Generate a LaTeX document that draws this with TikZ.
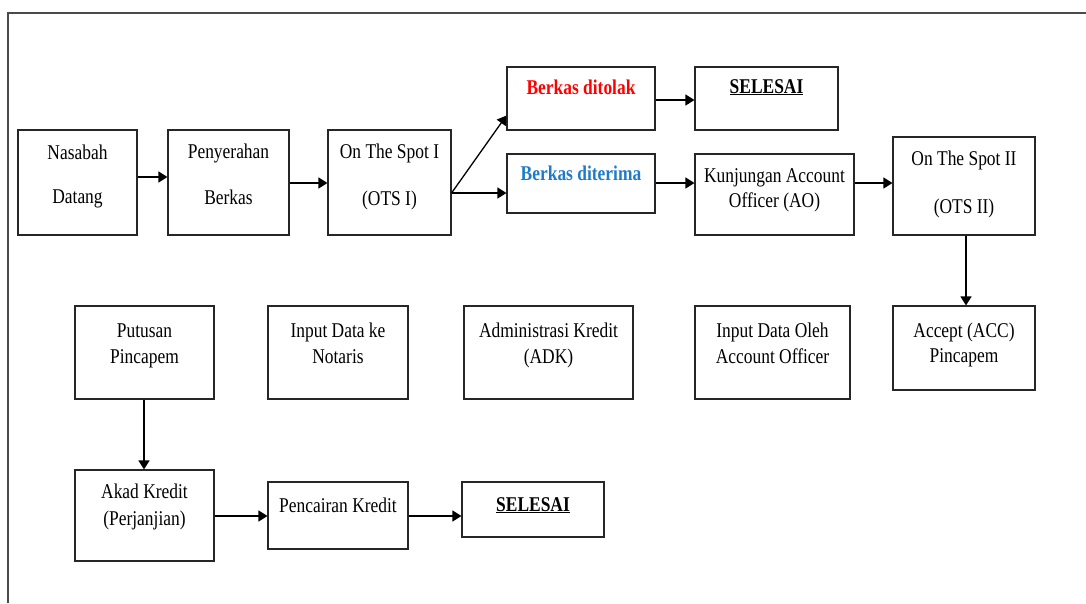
\documentclass[tikz,border=0pt]{standalone}
\usepackage{fontspec}
\setmainfont{Liberation Serif}[FakeStretch=0.83]
\usetikzlibrary{arrows.meta,calc}
\definecolor{rejred}{HTML}{FF0000}
\definecolor{accblue}{HTML}{1F7BC8}
\definecolor{framegray}{HTML}{4A4A4A}
\begin{document}
\begin{tikzpicture}[x=1pt,y=-1pt,
  box/.style={draw=black!85,line width=1.1pt,inner sep=0pt,rectangle},
  txt/.style={anchor=base,inner sep=0pt,font=\fontsize{21}{26}\selectfont},
  arr/.style={line width=1.3pt,-{Triangle[length=9pt,width=11pt]}},
  frameline/.style={draw=framegray,line width=1.6pt}]
\useasboundingbox (0,0) rectangle (1086,603);
\coordinate (fa) at (8,603);
\coordinate (fb) at (8,13);
\coordinate (fc) at (1086,13);
\draw[frameline] (fa) -- (fb) -- (fc);

% boxes
\node[box,minimum width=119pt,minimum height=105pt] (nasabah) at (77.5,182.5) {};
\node[box,minimum width=121pt,minimum height=105pt] (penyerahan) at (228.5,182.5) {};
\node[box,minimum width=123pt,minimum height=105pt] (ots1) at (389.5,182.5) {};
\node[box,minimum width=148pt,minimum height=63pt] (ditolak) at (581,98.5) {};
\node[box,minimum width=148pt,minimum height=59pt] (diterima) at (581,183.5) {};
\node[box,minimum width=143pt,minimum height=63pt] (selesai1) at (766.5,98.5) {};
\node[box,minimum width=159pt,minimum height=81pt] (kunjungan) at (774.5,194.5) {};
\node[box,minimum width=142pt,minimum height=98pt] (ots2) at (964,186) {};
\node[box,minimum width=142pt,minimum height=84pt] (acc) at (964,348) {};
\node[box,minimum width=139pt,minimum height=93pt] (putusan) at (144.5,352.5) {};
\node[box,minimum width=140pt,minimum height=93pt] (notaris) at (338,352.5) {};
\node[box,minimum width=169pt,minimum height=93pt] (adk) at (548.5,352.5) {};
\node[box,minimum width=155pt,minimum height=93pt] (inputao) at (772.5,352.5) {};
\node[box,minimum width=139pt,minimum height=91pt] (akad) at (144.5,515.5) {};
\node[box,minimum width=140pt,minimum height=67pt] (pencairan) at (338,515.5) {};
\node[box,minimum width=142pt,minimum height=55pt] (selesai2) at (533,509.5) {};

% texts
\node[txt] (t-nas1) at (77.5,159) {Nasabah};
\node[txt] (t-nas2) at (77.5,203) {Datang};
\node[txt] (t-pen1) at (228.5,158) {Penyerahan};
\node[txt] (t-pen2) at (228.5,204) {Berkas};
\node[txt] (t-ots1a) at (389.5,158) {On The Spot I};
\node[txt] (t-ots1b) at (389.5,205) {(OTS I)};
\node[txt,text=rejred] (t-tol) at (581,94) {\bfseries Berkas ditolak};
\node[txt,text=accblue] (t-ter) at (581,180) {\bfseries Berkas diterima};
\node[txt] (t-sel1) at (766.5,93) {\underline{\bfseries SELESAI}};
\node[txt] (t-kun1) at (774.5,182) {Kunjungan Account};
\node[txt] (t-kun2) at (774.5,207) {Officer (AO)};
\node[txt] (t-ots2a) at (964,165) {On The Spot II};
\node[txt] (t-ots2b) at (964,213) {(OTS II)};
\node[txt] (t-acc1) at (964,337) {Accept (ACC)};
\node[txt] (t-acc2) at (964,362) {Pincapem};
\node[txt] (t-put1) at (144.5,337) {Putusan};
\node[txt] (t-put2) at (144.5,363) {Pincapem};
\node[txt] (t-not1) at (338,337) {Input Data ke};
\node[txt] (t-not2) at (338,363) {Notaris};
\node[txt] (t-adk1) at (548.5,337) {Administrasi Kredit};
\node[txt] (t-adk2) at (548.5,363) {(ADK)};
\node[txt] (t-iao1) at (772.5,337) {Input Data Oleh};
\node[txt] (t-iao2) at (772.5,363) {Account Officer};
\node[txt] (t-akad1) at (144.5,498) {Akad Kredit};
\node[txt] (t-akad2) at (144.5,525) {(Perjanjian)};
\node[txt] (t-pnc) at (338,512) {Pencairan Kredit};
\node[txt] (t-sel2) at (533,511) {\underline{\bfseries SELESAI}};

% connectors
\draw[arr] (nasabah.east |- 0,177) -- (penyerahan.west |- 0,177);
\draw[arr] (penyerahan.east |- 0,183) -- (ots1.west |- 0,183);
\coordinate (fork) at (ots1.east |- 0,193);
\draw[arr] (fork) -- (diterima.west |- 0,193);
\draw[arr] (fork) -- ($(ditolak.south west)+(0,-15)$);
\draw[arr] (ditolak.east |- 0,100) -- (selesai1.west |- 0,100);
\draw[arr] (diterima.east |- 0,183) -- (kunjungan.west |- 0,183);
\draw[arr] (kunjungan.east |- 0,183) -- (ots2.west |- 0,183);
\draw[arr] (ots2.south -| 966,0) -- (acc.north -| 966,0);
\draw[arr] (putusan.south -| 144,0) -- (akad.north -| 144,0);
\draw[arr] (akad.east |- 0,516) -- (pencairan.west |- 0,516);
\draw[arr] (pencairan.east |- 0,516) -- (selesai2.west |- 0,516);
\end{tikzpicture}
\end{document}
